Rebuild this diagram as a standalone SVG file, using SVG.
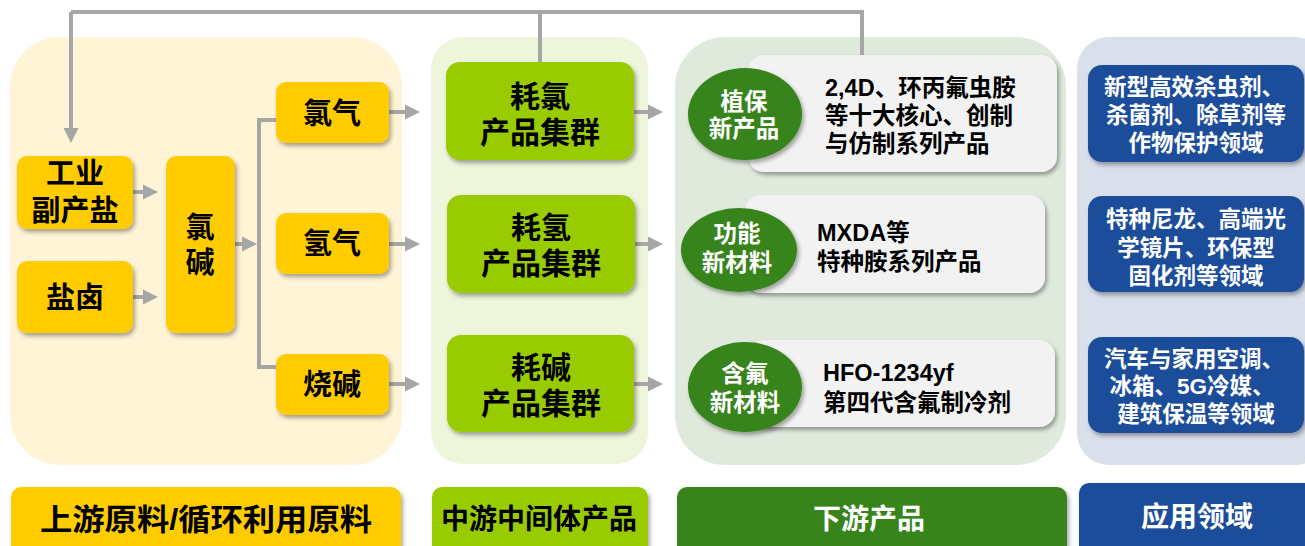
<svg xmlns="http://www.w3.org/2000/svg" width="1305" height="546" viewBox="0 0 1305 546">
<style>
text{font-family:"Liberation Sans","Noto Sans CJK SC",sans-serif;font-weight:bold;text-anchor:middle;dominant-baseline:central}
.dk{fill:#000}
.wt{fill:#fff}
.yb{fill:#ffcc00;filter:url(#sh)}
.gb{fill:#99cc00;filter:url(#sh)}
.card{fill:#f2f2f2;filter:url(#sh)}
.ell{fill:#38841c;filter:url(#sh)}
.bb{fill:#1f4e9b;filter:url(#sh)}
.t29{font-size:29px}
.t30{font-size:30px}
.t24{font-size:23.5px}
.t23{font-size:22.5px}
.lt{text-anchor:start}
.con{fill:none;stroke:#a6a6a6;stroke-width:4}
</style>
<defs>
<filter id="sh" x="-10%" y="-10%" width="125%" height="130%">
<feDropShadow dx="2" dy="3" stdDeviation="2" flood-color="#000" flood-opacity="0.35"/>
</filter>
<marker id="ah" markerUnits="userSpaceOnUse" markerWidth="16" markerHeight="16" refX="0" refY="8" orient="auto" viewBox="0 0 16 16">
<path d="M0,0.5 L15,8 L0,15.5 Z" fill="#a6a6a6"/>
</marker>
</defs>

<g id="panels">
<rect x="10" y="37" width="392" height="428" rx="50" fill="#fff4d6"/>
<rect x="431" y="37" width="217" height="427" rx="32" fill="#edf5db"/>
<rect x="675" y="37" width="391" height="428" rx="50" fill="#dfeadc"/>
<rect x="1077" y="37" width="250" height="428" rx="32" fill="#d9e0ec"/>
</g>

<g id="connectors">
<path class="con" d="M540,62 V12 M71,12 H862 V55"/>
<path class="con" d="M71,12 V128" marker-end="url(#ah)"/>
<path class="con" d="M133,192 H143" marker-end="url(#ah)"/>
<path class="con" d="M133,297 H143" marker-end="url(#ah)"/>
<path class="con" d="M235,244 H242" marker-end="url(#ah)"/>
<path class="con" d="M276,120 H259 V367 H276"/>
<path class="con" d="M389,112 H405" marker-end="url(#ah)"/>
<path class="con" d="M389,244 H405" marker-end="url(#ah)"/>
<path class="con" d="M389,384 H405" marker-end="url(#ah)"/>
<path class="con" d="M633,112 H648" marker-end="url(#ah)"/>
<path class="con" d="M635,244 H648" marker-end="url(#ah)"/>
<path class="con" d="M634,384 H648" marker-end="url(#ah)"/>
</g>

<g id="n-gongye">
<rect class="yb" x="17" y="156" width="116" height="73" rx="10"/>
<text class="dk t29"><tspan x="75" y="174">工业</tspan><tspan x="75" y="211">副产盐</tspan></text>
</g>
<g id="n-yanlu">
<rect class="yb" x="17" y="261" width="116" height="72" rx="10"/>
<text class="dk t29" x="75" y="298">盐卤</text>
</g>
<g id="n-lvjian">
<rect class="yb" x="166" y="156" width="69" height="177" rx="10"/>
<text class="dk t29"><tspan x="200" y="228">氯</tspan><tspan x="200" y="263">碱</tspan></text>
</g>
<g id="n-lvqi">
<rect class="yb" x="276" y="82" width="113" height="61" rx="10"/>
<text class="dk t29" x="332" y="114">氯气</text>
</g>
<g id="n-qingqi">
<rect class="yb" x="276" y="213" width="113" height="61" rx="10"/>
<text class="dk t29" x="332" y="244">氢气</text>
</g>
<g id="n-shaojian">
<rect class="yb" x="276" y="354" width="113" height="61" rx="10"/>
<text class="dk t29" x="332" y="385">烧碱</text>
</g>

<g id="n-haolv">
<rect class="gb" x="446" y="62" width="188" height="98" rx="14"/>
<text class="dk t30"><tspan x="540" y="96">耗氯</tspan><tspan x="540" y="132">产品集群</tspan></text>
</g>
<g id="n-haoqing">
<rect class="gb" x="447" y="195" width="188" height="98" rx="14"/>
<text class="dk t30"><tspan x="541" y="227">耗氢</tspan><tspan x="541" y="263">产品集群</tspan></text>
</g>
<g id="n-haojian">
<rect class="gb" x="447" y="335" width="187" height="97" rx="14"/>
<text class="dk t30"><tspan x="541" y="367">耗碱</tspan><tspan x="541" y="403">产品集群</tspan></text>
</g>

<g id="n-zhibao">
<rect class="card" x="748" y="55" width="309" height="117" rx="16"/>
<ellipse class="ell" cx="745" cy="114" rx="57" ry="46"/>
<text class="wt t24"><tspan x="744" y="102">植保</tspan><tspan x="744" y="129">新产品</tspan></text>
<text class="dk t24 lt"><tspan x="825" y="88">2,4D、环丙氟虫胺</tspan><tspan x="825" y="116">等十大核心、创制</tspan><tspan x="825" y="144">与仿制系列产品</tspan></text>
</g>
<g id="n-gongneng">
<rect class="card" x="745" y="195" width="300" height="98" rx="16"/>
<ellipse class="ell" cx="739" cy="250" rx="58" ry="42"/>
<text class="wt t24"><tspan x="737" y="234">功能</tspan><tspan x="737" y="263">新材料</tspan></text>
<text class="dk t24 lt"><tspan x="817" y="233">MXDA等</tspan><tspan x="817" y="262">特种胺系列产品</tspan></text>
</g>
<g id="n-hanfu">
<rect class="card" x="748" y="340" width="307" height="87" rx="16"/>
<ellipse class="ell" cx="745" cy="387" rx="57" ry="45"/>
<text class="wt t24"><tspan x="745" y="374">含氟</tspan><tspan x="745" y="403">新材料</tspan></text>
<text class="dk t24 lt"><tspan x="823" y="373">HFO-1234yf</tspan><tspan x="823" y="403">第四代含氟制冷剂</tspan></text>
</g>

<g id="n-app1">
<rect class="bb" x="1088" y="65" width="216" height="97" rx="14"/>
<text class="wt t23"><tspan x="1194" y="87">新型高效杀虫剂、</tspan><tspan x="1196" y="115">杀菌剂、除草剂等</tspan><tspan x="1196" y="143">作物保护领域</tspan></text>
</g>
<g id="n-app2">
<rect class="bb" x="1088" y="196" width="216" height="96" rx="14"/>
<text class="wt t23"><tspan x="1196" y="219">特种尼龙、高端光</tspan><tspan x="1196" y="248">学镜片、环保型</tspan><tspan x="1196" y="276">固化剂等领域</tspan></text>
</g>
<g id="n-app3">
<rect class="bb" x="1088" y="337" width="216" height="96" rx="14"/>
<text class="wt t23"><tspan x="1194" y="359">汽车与家用空调、</tspan><tspan x="1192" y="386">冰箱、5G冷媒、</tspan><tspan x="1196" y="414">建筑保温等领域</tspan></text>
</g>

<g id="labels">
<rect class="yb" x="11" y="487" width="390" height="75" rx="10"/>
<text class="dk" x="206" y="519" font-size="30" textLength="332" lengthAdjust="spacingAndGlyphs">上游原料/循环利用原料</text>
<rect class="gb" x="432" y="487" width="216" height="75" rx="10"/>
<text class="dk" x="539" y="519" font-size="28">中游中间体产品</text>
<rect x="677" y="487" width="390" height="75" rx="10" fill="#38841c" filter="url(#sh)"/>
<text class="wt" x="869" y="519" font-size="28">下游产品</text>
<rect class="bb" x="1079" y="483" width="240" height="75" rx="10"/>
<text class="wt" x="1197" y="517" font-size="28">应用领域</text>
</g>
</svg>
